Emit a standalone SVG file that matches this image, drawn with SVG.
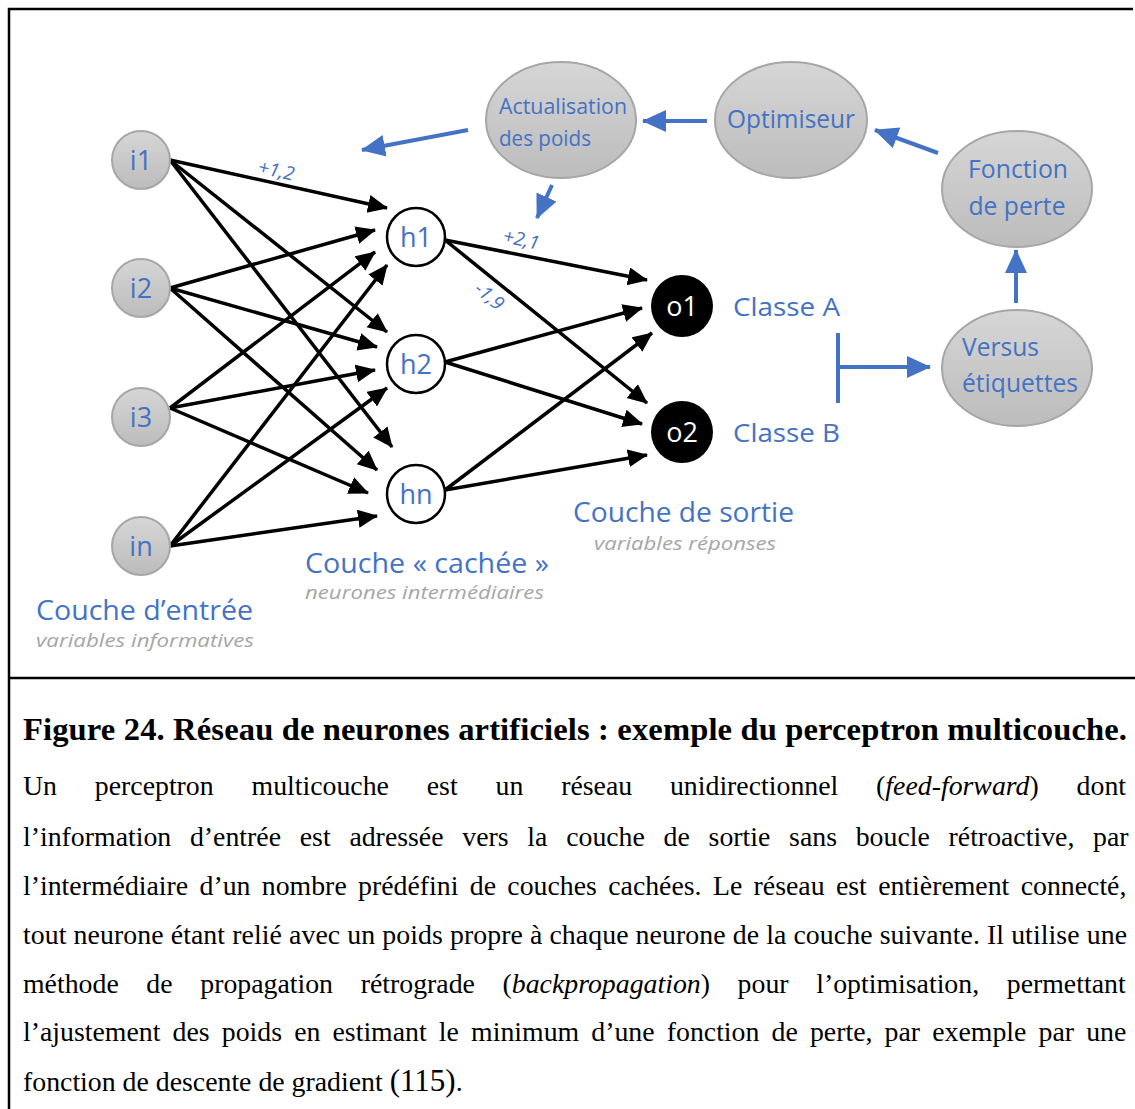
<svg xmlns="http://www.w3.org/2000/svg" width="1135" height="1109" viewBox="0 0 1135 1109">
<style>
.frame{stroke:#000;stroke-width:2.5;fill:none}
.in{fill:url(#gray);stroke:#a6a6a6;stroke-width:2}
.hid{fill:#fff;stroke:#000;stroke-width:2.5}
.out{fill:#000}
.lbl{font-family:"Open Sans","Noto Sans",sans-serif;fill:#4472c4}
.wl{font-family:"Open Sans","Noto Sans",sans-serif;fill:#4472c4;font-style:italic;font-size:19px}
.sub{font-family:"Open Sans","Noto Sans",sans-serif;fill:#a6a6a6;font-style:italic;font-size:19px}
.edge{stroke:#000;stroke-width:3.5;fill:none;marker-end:url(#ah)}
.bl{stroke:#4472c4;stroke-width:4;fill:none}
.bla{marker-end:url(#bh)}
.cap{font-family:"Liberation Serif","Times New Roman",serif;fill:#000;font-size:27.8px}
.title{font-family:"Liberation Serif","Times New Roman",serif;fill:#000;font-size:32.6px;font-weight:bold}
</style>
<defs>
<linearGradient id="gray" x1="0" y1="0" x2="0" y2="1">
<stop offset="0" stop-color="#d6d6d6"/>
<stop offset="1" stop-color="#bcbcbc"/>
</linearGradient>
<marker id="ah" markerUnits="userSpaceOnUse" markerWidth="22" markerHeight="20" refX="19" refY="9" orient="auto">
<path d="M0,0 L20,9 L0,18 z" fill="#000"/>
</marker>
<marker id="bh" markerUnits="userSpaceOnUse" markerWidth="26" markerHeight="24" refX="23" refY="11" orient="auto">
<path d="M0,0 L24,11 L0,22 z" fill="#4472c4"/>
</marker>
</defs>
<rect width="1135" height="1109" fill="#fff"/>
<path class="frame" d="M9,1109 V9 H1133 M9,678 H1135"/>

<g id="connectors">
<line class="edge" x1="170" y1="160" x2="387" y2="208"/>
<line class="edge" x1="170" y1="160" x2="387" y2="332"/>
<line class="edge" x1="170" y1="160" x2="392" y2="447"/>
<line class="edge" x1="170" y1="288" x2="375" y2="230"/>
<line class="edge" x1="170" y1="288" x2="377" y2="347"/>
<line class="edge" x1="170" y1="288" x2="377" y2="470"/>
<line class="edge" x1="170" y1="408" x2="375" y2="252"/>
<line class="edge" x1="170" y1="408" x2="375" y2="370"/>
<line class="edge" x1="170" y1="408" x2="368" y2="493"/>
<line class="edge" x1="170" y1="546" x2="387" y2="265"/>
<line class="edge" x1="170" y1="546" x2="387" y2="388"/>
<line class="edge" x1="170" y1="546" x2="377" y2="516"/>
<line class="edge" x1="445" y1="240" x2="647" y2="280"/>
<line class="edge" x1="445" y1="240" x2="647" y2="403"/>
<line class="edge" x1="445" y1="362" x2="642" y2="308"/>
<line class="edge" x1="445" y1="362" x2="642" y2="424"/>
<line class="edge" x1="445" y1="490" x2="652" y2="333"/>
<line class="edge" x1="445" y1="490" x2="647" y2="455"/>
<line class="bl bla" x1="707" y1="121" x2="643" y2="121"/>
<line class="bl bla" x1="552" y1="185" x2="537" y2="218"/>
<line class="bl bla" x1="468" y1="130" x2="362" y2="150"/>
<line class="bl bla" x1="938" y1="153" x2="875" y2="130"/>
<line class="bl bla" x1="1016" y1="303" x2="1016" y2="250"/>
<path class="bl" d="M838,333 V403"/>
<line class="bl bla" x1="838" y1="367" x2="930" y2="367"/>
</g>

<g id="weights">
<text class="wl" transform="translate(257,173) rotate(12)">+1,2</text>
<text class="wl" transform="translate(502,242) rotate(12)">+2,1</text>
<text class="wl" transform="translate(473,291) rotate(40)">-1,9</text>
</g>

<g id="i1"><circle class="in" cx="141" cy="160" r="29"/><text class="lbl" x="141" y="170" font-size="27" text-anchor="middle">i1</text></g>
<g id="i2"><circle class="in" cx="141" cy="288" r="29"/><text class="lbl" x="141" y="298" font-size="27" text-anchor="middle">i2</text></g>
<g id="i3"><circle class="in" cx="141" cy="417" r="29"/><text class="lbl" x="141" y="427" font-size="27" text-anchor="middle">i3</text></g>
<g id="in"><circle class="in" cx="141" cy="546" r="29"/><text class="lbl" x="141" y="556" font-size="27" text-anchor="middle">in</text></g>

<g id="h1"><circle class="hid" cx="416" cy="237" r="29"/><text class="lbl" x="416" y="247" font-size="27" text-anchor="middle">h1</text></g>
<g id="h2"><circle class="hid" cx="416" cy="364" r="29"/><text class="lbl" x="416" y="374" font-size="27" text-anchor="middle">h2</text></g>
<g id="hn"><circle class="hid" cx="416" cy="494" r="29"/><text class="lbl" x="416" y="504" font-size="27" text-anchor="middle">hn</text></g>

<g id="o1"><circle class="out" cx="682" cy="306" r="31"/><text x="682" y="316" font-size="27" text-anchor="middle" font-family="Open Sans,sans-serif" fill="#fff">o1</text></g>
<g id="o2"><circle class="out" cx="682" cy="432" r="31"/><text x="682" y="442" font-size="27" text-anchor="middle" font-family="Open Sans,sans-serif" fill="#fff">o2</text></g>

<g id="classeA"><text class="lbl" x="733" y="316" font-size="26" textLength="107" lengthAdjust="spacingAndGlyphs">Classe A</text></g>
<g id="classeB"><text class="lbl" x="733" y="442" font-size="26" textLength="107" lengthAdjust="spacingAndGlyphs">Classe B</text></g>

<g id="actualisation"><ellipse class="in" cx="561" cy="120" rx="75" ry="58"/>
<text class="lbl" x="499" y="114" font-size="22" textLength="128" lengthAdjust="spacingAndGlyphs">Actualisation</text>
<text class="lbl" x="499" y="146" font-size="22" textLength="92" lengthAdjust="spacingAndGlyphs">des poids</text></g>
<g id="optimiseur"><ellipse class="in" cx="791" cy="120" rx="76" ry="58"/>
<text class="lbl" x="727" y="128" font-size="25" textLength="128" lengthAdjust="spacingAndGlyphs">Optimiseur</text></g>
<g id="fonction"><ellipse class="in" cx="1017" cy="189" rx="75" ry="58"/>
<text class="lbl" x="1018" y="178" font-size="25" text-anchor="middle" textLength="100" lengthAdjust="spacingAndGlyphs">Fonction</text>
<text class="lbl" x="1017" y="215" font-size="25" text-anchor="middle" textLength="97" lengthAdjust="spacingAndGlyphs">de perte</text></g>
<g id="versus"><ellipse class="in" cx="1017" cy="368" rx="75" ry="58"/>
<text class="lbl" x="962" y="356" font-size="25" textLength="77" lengthAdjust="spacingAndGlyphs">Versus</text>
<text class="lbl" x="962" y="392" font-size="25" textLength="116" lengthAdjust="spacingAndGlyphs">étiquettes</text></g>

<g id="layer-labels">
<text class="lbl" x="36" y="620" font-size="28" textLength="217" lengthAdjust="spacingAndGlyphs">Couche d’entrée</text>
<text class="sub" x="36" y="647" textLength="218" lengthAdjust="spacingAndGlyphs">variables informatives</text>
<text class="lbl" x="305" y="573" font-size="28" textLength="244" lengthAdjust="spacingAndGlyphs">Couche « cachée »</text>
<text class="sub" x="305" y="599" textLength="239" lengthAdjust="spacingAndGlyphs">neurones intermédiaires</text>
<text class="lbl" x="573" y="522" font-size="28" textLength="221" lengthAdjust="spacingAndGlyphs">Couche de sortie</text>
<text class="sub" x="594" y="550" textLength="182" lengthAdjust="spacingAndGlyphs">variables réponses</text>
</g>

<g id="caption">
<text class="title" x="23" y="740" textLength="1104" lengthAdjust="spacing">Figure 24. Réseau de neurones artificiels : exemple du perceptron multicouche.</text>
<text class="cap" x="23" y="795" word-spacing="30.9">Un perceptron multicouche est un réseau unidirectionnel (<tspan font-style="italic">feed-forward</tspan>) dont</text>
<text class="cap" x="23" y="846" word-spacing="11.8">l’information d’entrée est adressée vers la couche de sortie sans boucle rétroactive, par</text>
<text class="cap" x="23" y="895" word-spacing="4.4">l’intermédiaire d’un nombre prédéfini de couches cachées. Le réseau est entièrement connecté,</text>
<text class="cap" x="23" y="944" textLength="1104" lengthAdjust="spacing">tout neurone étant relié avec un poids propre à chaque neurone de la couche suivante. Il utilise une</text>
<text class="cap" x="23" y="993" word-spacing="20.7">méthode de propagation rétrograde (<tspan font-style="italic">backpropagation</tspan>) pour l’optimisation, permettant</text>
<text class="cap" x="23" y="1041" word-spacing="5.2">l’ajustement des poids en estimant le minimum d’une fonction de perte, par exemple par une</text>
<text class="cap" x="23" y="1091">fonction de descente de gradient <tspan font-size="31">(115)</tspan>.</text>
</g>
</svg>
